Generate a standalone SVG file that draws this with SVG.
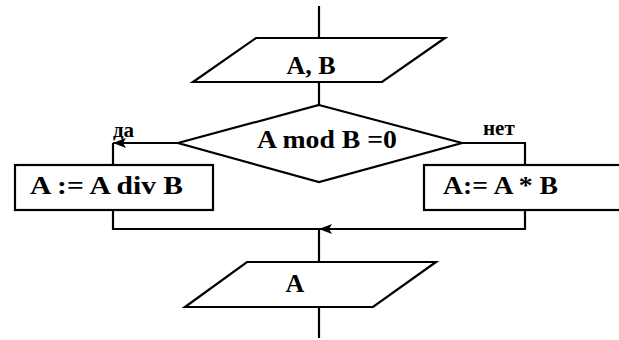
<svg xmlns="http://www.w3.org/2000/svg" width="619" height="340" viewBox="0 0 619 340">
<style>
.s{fill:#fff;stroke:#000;stroke-width:2.2;stroke-linejoin:miter}
.c{fill:none;stroke:#000;stroke-width:2.2}
text{font-family:'Liberation Serif','DejaVu Serif',serif;font-weight:bold;fill:#000}
.t{font-size:26px}
.l{font-size:21px}
</style>
<rect width="619" height="340" fill="#fff"/>
<g id="connectors">
<line class="c" x1="319" y1="6" x2="319" y2="38"/>
<line class="c" x1="319" y1="82" x2="319" y2="105"/>
<polyline class="c" points="178,143 113,143"/>
<line class="c" x1="113" y1="143" x2="113" y2="165"/>
<polyline class="c" points="462,143 525,143 525,165"/>
<polyline class="c" points="113,210 113,229 319,229"/>
<polyline class="c" points="525,210 525,229 319,229"/>
<line class="c" x1="319" y1="229" x2="319" y2="262"/>
<line class="c" x1="319" y1="307" x2="319" y2="338"/>
<path d="M113,143 L126,138 L123,143 L126,148 Z" fill="#000"/>
<path d="M319,229 L332,224 L329,229 L332,234 Z" fill="#000"/>
<text class="l" x="113" y="137" font-family="Liberation Serif, serif">да</text>
<text class="l" x="483" y="135" font-family="Liberation Serif, serif">нет</text>
</g>
<g id="input-ab">
<polygon class="s" points="256,38 445,38 382,82 193,82"/>
<text class="t" x="311" y="74" text-anchor="middle" font-family="Liberation Serif, serif">A, B</text>
</g>
<g id="decision">
<polygon class="s" points="319,105 462,143 319,182 178,143"/>
<text class="t" x="257" y="148" textLength="140" lengthAdjust="spacingAndGlyphs" font-family="Liberation Serif, serif">A mod B =0</text>
</g>
<g id="div-box">
<rect class="s" x="15" y="165" width="198" height="45"/>
<text class="t" x="30" y="194" textLength="153" lengthAdjust="spacingAndGlyphs" font-family="Liberation Serif, serif">A := A div B</text>
</g>
<g id="mul-box">
<rect class="s" x="424" y="165" width="205" height="45"/>
<text class="t" x="443" y="194" textLength="115" lengthAdjust="spacingAndGlyphs" font-family="Liberation Serif, serif">A:= A * B</text>
</g>
<g id="output-a">
<polygon class="s" points="247,262 436,262 373,307 185,307"/>
<text class="t" x="295" y="292" text-anchor="middle" font-family="Liberation Serif, serif">A</text>
</g>
</svg>
